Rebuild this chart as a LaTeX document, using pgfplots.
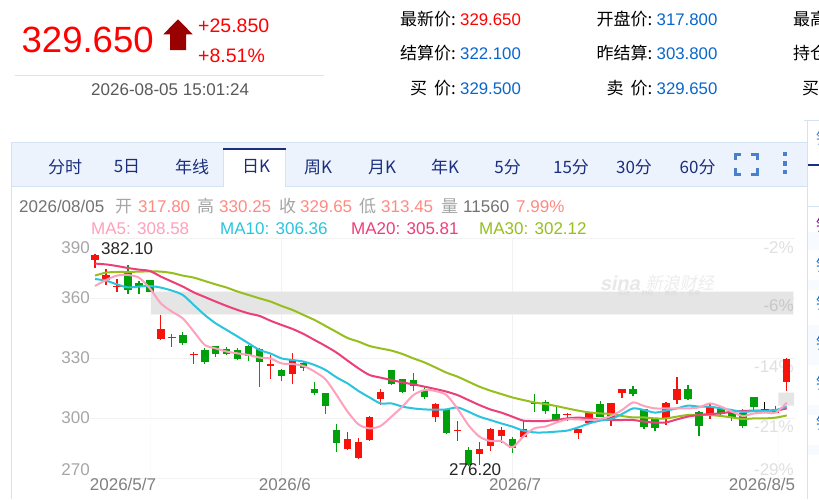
\documentclass[border=0pt]{standalone}
\usepackage{fontspec}
\usepackage{pgfplots}
\usepackage{pgfplotstable}
\pgfplotsset{compat=1.18}
\setmainfont{Liberation Sans}
\newfontfamily\cjk{Noto Sans CJK SC}
\newcommand{\fs}[1]{\fontsize{#1}{#1}\selectfont}
\definecolor{cred}{HTML}{F5130B}
\definecolor{cgreen}{HTML}{00A00A}
\definecolor{ma5}{HTML}{FFA0BC}
\definecolor{ma10}{HTML}{2BC4DE}
\definecolor{ma20}{HTML}{EC3F78}
\definecolor{ma30}{HTML}{96BF1E}
\definecolor{navy}{HTML}{1A2F7E}
\definecolor{blueval}{HTML}{0A66CC}
\definecolor{panel}{HTML}{D5E2F2}
\definecolor{tabbg}{HTML}{EDF3FC}
\definecolor{salmon}{HTML}{FF8A82}
\definecolor{icon}{HTML}{4A7FC9}
\definecolor{darrow}{HTML}{990000}
\definecolor{hair}{HTML}{DDE3EC}
\pgfplotstableread{
i top bot hi lo
0 381.5 379 382.1 374.8
1 371.5 369 374.3 366.5
2 366.2 365.4 369.3 362.8
6 344.3 339.7 351.7 339.2
7 340.5 339.8 342 335.7
9 332.2 331.5 332.8 326.8
16 326.8 326.2 331.5 319.3
18 329 321.8 332.3 316.8
23 289.5 284.7 292.8 284.2
24 288.2 279.8 290.2 279.3
25 300.3 289 301 288.5
26 313.2 309.5 314.7 306.5
31 307 300.7 307.5 297.8
33 294 293.3 298.5 288.3
35 284.7 282.2 288 276.7
36 294.5 286 294.8 283.5
37 294 291 295.7 287.3
39 294.7 290.5 299 290.5
43 302 301.3 302.7 298.5
44 294.7 292.7 294.7 289.5
45 303.2 297.7 303.2 296.8
47 307.3 299 307.5 296.2
48 314.5 312.5 314.5 310
52 307.5 299.8 308.2 296.7
53 314.5 309 320.3 307.2
56 305.7 302 307.3 299.3
62 304.3 302.7 306.2 302.7
63 329.65 317.8 330.25 313.45
}\redT
\pgfplotstableread{
i top bot hi lo
3 372.7 364 376.5 362
4 367.3 365.7 368.5 362.2
5 368.8 363.2 368.8 363.2
8 341.7 337.5 343.2 336.5
10 333.8 328.2 334.8 327.2
11 335.8 331.8 335.8 330.5
12 334.3 331.8 335.3 331.3
13 333.8 329.5 334.8 329
14 336 330.8 336.7 328.5
15 334.3 328.2 334.8 315.7
17 324 321.2 324.5 318.5
19 327.7 324.8 328.7 323.5
20 314.5 312.7 317.8 311.5
21 312.5 306.2 312.5 301.8
22 294 287.7 297 283.2
27 324 317 324 316.3
28 319.5 313.2 319.5 312.5
29 319 316 322.3 313.5
30 313.7 310.3 315.7 309.3
32 304.3 292.7 304.3 292
34 284 276.5 285.3 276.2
38 289.7 284.8 290.7 282.3
40 308.2 307 311.8 303.2
41 308.2 303.3 309 302.2
42 302 299 305.7 298.7
46 306.8 300.7 308.5 300.3
49 314.5 311.8 316 311.2
50 304.5 295.7 304.5 294.3
51 299.3 294.8 300.2 293.3
54 314.5 309.5 316.3 309
55 302.8 296 303.3 291
57 304.5 302.5 304.5 301
58 302.7 300.7 303.7 298.7
59 302.3 296 304.3 295.2
60 310.3 305.3 310.3 303.7
}\greenT
\pgfplotstableread{
i top bot hi lo
61 304.3 304 308 303.3
}\blackT
\pgfplotstableread{
i a b c d
0 366 369.5 377.2 371.2
1 369 368.7 376.8 372.7
2 371.2 366.8 376 373
3 371.5 365.3 375 373
4 370.2 365.7 374.2 373.2
5 364.8 366 373.5 373.3
6 357.3 365.2 370.7 373.2
7 353.2 363.7 368.2 372.5
8 349.8 361.5 365.7 371.2
9 343.2 356.5 362.8 370.2
10 336.5 351.5 360.5 368.5
11 334.8 347.3 358.2 366.8
12 333.2 344 356 365.2
13 332.3 340.7 354 363.2
14 331.5 337.3 352.3 361.5
15 330.2 334 351 359.8
16 329.7 332.2 348.6 358.2
17 327.3 329.8 346.5 356
18 327 329 344.5 354
19 326 328.2 342 351.5
20 323.2 326.5 339 349
21 319.3 324 336 346
22 311.5 320.3 332.7 343
23 303.2 317.3 328.7 340
24 296.8 313.5 324.8 338.2
25 294.8 310.3 321.5 336
26 296 307.3 320.2 334.8
27 300.7 307.3 319 333.7
28 305.7 305.7 317.8 332
29 311.5 304.8 316.8 329.8
30 314 304.3 315.7 327.8
31 313.5 304.2 314.5 325.3
32 311.5 304.3 313.2 322.7
33 304.8 305.3 311.5 320.7
34 296.5 303.2 309 318.2
35 290.7 300.7 306.5 315.7
36 288.5 299 304.3 313.7
37 288.5 297.3 302.7 312
38 285.3 295.7 300.7 310.3
39 290.7 293.7 298.7 309
40 294.8 292.8 298.5 307.8
41 295.7 292.8 298.5 307
42 297.7 293.2 299 306
43 299.3 293.7 299.8 304.8
44 299.3 295.3 300.2 303.7
45 299 297.3 299.8 302.8
46 299.5 298.7 299.3 302.3
47 301 299.5 299 302
48 304 302 299 301
49 307.8 304.8 299 300.3
50 306 304 298.2 300.3
51 304.8 302.7 297.7 299.8
52 304.8 303.7 297.8 299.8
53 304.8 304.8 299.3 300.7
54 304.8 306.2 300.7 301.5
55 305.3 305.7 301.5 301.5
56 307.3 305.7 302 301.5
57 305.7 304.8 302.3 301
58 303.2 304 303.2 300.3
59 301 303 303.5 299.5
60 302.3 303.5 303.7 299.8
61 302.7 303.7 303.7 299.8
62 302.7 304 303.7 300.2
63 307.7 305.7 304.8 301.3
}\maT
\pgfplotsset{
  wick/.style={draw=none,mark=none,forget plot,error bars/.cd,y dir=minus,y explicit,error mark=none,error bar style={#1,line width=1.2pt}},
  body/.style={draw=none,mark=none,forget plot,error bars/.cd,y dir=minus,y explicit,error mark=none,error bar style={#1,line width=7.4pt}},
  maline/.style={#1,line width=2pt,mark=none,smooth,tension=0.45,forget plot}
}
\begin{document}
\begin{tikzpicture}[x=1pt,y=-1pt]
\fill[white] (0,0) rectangle (819,499);
% ---- side panel
\fill[tabbg!45] (808,232) rectangle (819,250);
\fill[tabbg!45] (808,280) rectangle (819,290);
\fill[tabbg!45] (808,325) rectangle (819,365);
\fill[tabbg!45] (808,405) rectangle (819,415);
\fill[tabbg!45] (808,445) rectangle (819,455);
\draw[panel,line width=1pt] (804,120.5)--(819,120.5);
\draw[panel,line width=1pt] (807,120)--(807,499);
\draw[panel,line width=1pt] (807,206.5)--(819,206.5);
\draw[navy,line width=2pt] (808,165)--(819,165);
% ---- chart panel frame
\fill[tabbg] (11.5,142.5) rectangle (807,186.5);
\draw[panel,line width=1pt] (11.5,499)--(11.5,142.5)--(807,142.5);
\draw[panel,line width=1pt] (11.5,186.5)--(807,186.5);
\fill[white] (223,148) rectangle (285.7,187);
\draw[panel,line width=0.8pt] (223,148)--(223,186.5) (285.7,148)--(285.7,186.5);
\draw[navy,line width=2pt] (223,148.5)--(285.7,148.5);
% ---- percent labels behind the candles
\foreach \yy/\t in {248/-2\%,367/-14\%,427/-21\%,470/-29\%}
  \node[anchor=east,inner sep=0,text=black!12] at (794,\yy) {\fs{17}\t};
% ---- chart
\begin{axis}[
  at={(90pt,-478pt)},anchor=south west,
  width=705pt,height=240pt,scale only axis,
  xmin=-0.455,xmax=63.75,ymin=270,ymax=390,
  axis line style={draw=none},tick style={draw=none},
  ytick={270,300,330,360,390},yticklabels={,,,,},
  ymajorgrids,
  xtick={2.55,17.3,38.25,60.75},
  xticklabels={2026/5/7,2026/6,2026/7,2026/8/5},
  extra x ticks={17,38},extra x tick labels={,},
  extra x tick style={xmajorgrids,grid style={color=black!5}},
  grid style={color=black!5},
  xticklabel style={text=black!50,font=\fs{17},anchor=center,yshift=-6pt},
  xtick pos=bottom]
\addplot[fill=black!10,draw=none,forget plot] coordinates {(5.1,363.15)(63.6,363.15)(63.6,351.85)(5.1,351.85)} \closedcycle;
\addplot[fill=black!10,draw=none,forget plot] coordinates {(62.23,312.65)(63.66,312.65)(63.66,306.15)(62.23,306.15)} \closedcycle;
\addplot[wick=cred] table[x=i,y=hi,y error minus expr=\thisrow{hi}-\thisrow{lo}] {\redT};
\addplot[body=cred] table[x=i,y=top,y error minus expr=\thisrow{top}-\thisrow{bot}] {\redT};
\addplot[wick=cgreen] table[x=i,y=hi,y error minus expr=\thisrow{hi}-\thisrow{lo}] {\greenT};
\addplot[body=cgreen] table[x=i,y=top,y error minus expr=\thisrow{top}-\thisrow{bot}] {\greenT};
\addplot[wick=black] table[x=i,y=hi,y error minus expr=\thisrow{hi}-\thisrow{lo}] {\blackT};
\addplot[body=black] table[x=i,y=top,y error minus expr=\thisrow{top}-\thisrow{bot}] {\blackT};
\addplot[maline=ma30] table[x=i,y=d] {\maT};
\addplot[maline=ma20] table[x=i,y=c] {\maT};
\addplot[maline=ma10] table[x=i,y=b] {\maT};
\addplot[maline=ma5] table[x=i,y=a] {\maT};
\end{axis}
% ---- header quote
\node[anchor=base west,inner sep=0,text=red] at (21.5,52.7) {\fs{36.5}329.650};
\fill[darrow] (178,19.3)--(192.7,34.3)--(186,34.3)--(186,50)--(170,50)--(170,34.3)--(163.3,34.3)--cycle;
\node[anchor=base west,inner sep=0,text=red] at (198,32) {\fs{19.5}+25.850};
\node[anchor=base west,inner sep=0,text=red] at (198,62) {\fs{19.5}+8.51\%};
\draw[hair,line width=1pt] (15,75.5)--(324,75.5);
\node[anchor=base west,inner sep=0,text=black!65] at (91,95.5) {\fs{17}2026-08-05 15:01:24};
% ---- quote table
\newcommand{\lab}[3]{\node[anchor=base east,inner sep=0] at (#1,#2) {\fs{17}\cjk #3};}
\newcommand{\val}[4]{\node[anchor=base west,inner sep=0,text=#4] at (#1,#2) {\fs{16.8}#3};}
\lab{456}{25}{最新价:}\val{460}{25}{329.650}{red}
\lab{456}{59.5}{结算价:}\val{460}{59.5}{322.100}{blueval}
\lab{456}{94.5}{买\hspace{7pt}价:}\val{460}{94.5}{329.500}{blueval}
\lab{652.5}{25}{开盘价:}\val{656.5}{25}{317.800}{blueval}
\lab{652.5}{59.5}{昨结算:}\val{656.5}{59.5}{303.800}{blueval}
\lab{652.5}{94.5}{卖\hspace{7pt}价:}\val{656.5}{94.5}{329.650}{blueval}
\node[anchor=base west,inner sep=0] at (793,25) {\fs{17}\cjk 最高};
\node[anchor=base west,inner sep=0] at (793,59.5) {\fs{17}\cjk 持仓};
\node[anchor=base west,inner sep=0] at (802,94.5) {\fs{17}\cjk 买};
% ---- tabs
\foreach \cx/\t in {65/分时,127/5日,192/年线,256/日K,318/周K,382/月K,445/年K,507.7/5分,571/15分,634/30分,697.6/60分}
  \node[text=navy,inner sep=0] at (\cx,167) {\fs{17}\cjk \t};
\draw[icon,line width=3pt] (735,160)--(735,154)--(741,154) (751,154)--(757,154)--(757,160)
  (735,168)--(735,174)--(741,174) (751,174)--(757,174)--(757,168);
\foreach \yy in {154,163.5,172} \fill[icon] (782.7,\yy-2.2) rectangle (787.3,\yy+2.2);
% ---- info lines
\newcommand{\txt}[3]{\node[anchor=base west,inner sep=0,text=#3] at (#1,212) {\fs{17}#2};}
\txt{19}{2026/08/05}{black!55}
\txt{115}{\cjk 开}{black!35}\txt{138}{317.80}{salmon}
\txt{197}{\cjk 高}{black!35}\txt{219}{330.25}{salmon}
\txt{279}{\cjk 收}{black!35}\txt{300}{329.65}{salmon}
\txt{359}{\cjk 低}{black!35}\txt{381}{313.45}{salmon}
\txt{441}{\cjk 量}{black!35}\txt{463}{11560}{black!55}\txt{516}{7.99\%}{salmon}
\newcommand{\mal}[3]{\node[anchor=base west,inner sep=0,text=#3] at (#1,234) {\fs{17}#2};}
\mal{91}{MA5: 308.58}{ma5}
\mal{220}{MA10: 306.36}{ma10}
\mal{351}{MA20: 305.81}{ma20}
\mal{479}{MA30: 302.12}{ma30}
% ---- price labels
\foreach \yy/\t in {248/390,298/360,358/330,418/300,470/270}
  \node[anchor=east,inner sep=0,text=black!35] at (90,\yy) {\fs{17}\t};
\node[anchor=east,inner sep=0,text=black!22] at (794,306) {\fs{17}-6\%};
\node[anchor=west,inner sep=0,text=black!85] at (101,249) {\fs{17}382.10};
\node[anchor=west,inner sep=0,text=black!85] at (449,470) {\fs{17}276.20};
% ---- watermark
\node[anchor=west,inner sep=0,text=black!9,xslant=0.2] at (601,283) {\fs{20}\bfseries sina};
\node[anchor=west,inner sep=0,text=black!7,xslant=0.2] at (647,283) {\fs{17}\cjk 新浪财经};
\node[anchor=west,inner sep=0,text=black!14] at (618,293.5) {\fs{6}\cjk 实时\ \ ·\ \ 财经\ \ ·\ \ 数据\ \ ·\ \ 股票};
% ---- clipped side list
\foreach \yy/\c in {138/icon,225/violet,265/blueval,303/blueval,343/blueval,383/blueval,423/blueval}
  \node[anchor=west,inner sep=0,text=\c] at (816,\yy) {\fs{16}\cjk 铜};
\pgfresetboundingbox
\useasboundingbox (0,0) rectangle (819,499);
\end{tikzpicture}
\end{document}
